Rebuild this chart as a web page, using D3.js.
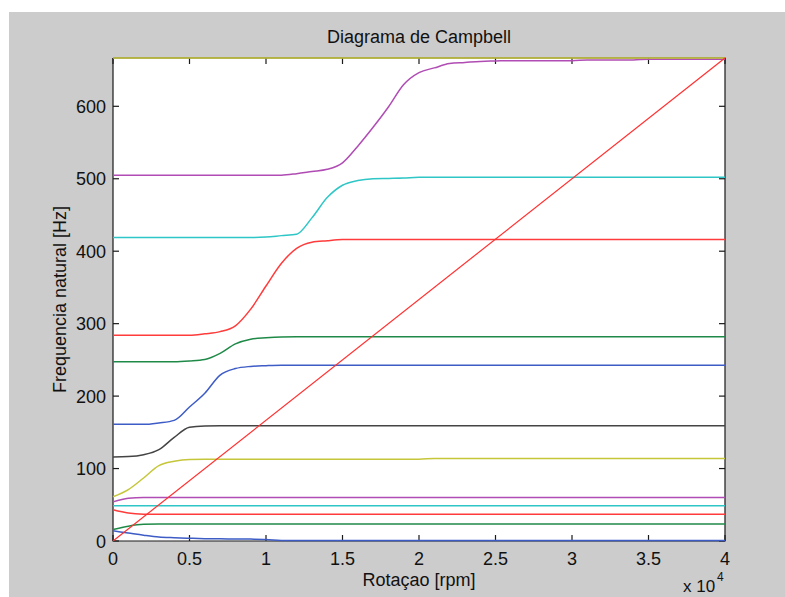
<!DOCTYPE html>
<html>
<head>
<meta charset="utf-8">
<script src="https://cdn.jsdelivr.net/npm/d3@7/dist/d3.min.js"></script>
<style>
  html, body { margin: 0; padding: 0; background: #fff; }
  svg { display: block; }
  text { font-family: "Liberation Sans", Arial, sans-serif; fill: #111; }
</style>
</head>
<body>
<svg id="chart" width="785" height="597"></svg>
<script>
// Campbell diagram: natural frequencies [Hz] against rotor speed [rpm]
const titulo = "Diagrama de Campbell";
const rotuloX = "Rotaçao [rpm]";
const rotuloY = "Frequencia natural [Hz]";

const xTicks = [0, 5000, 10000, 15000, 20000, 25000, 30000, 35000, 40000];
const xTickLabels = ["0", "0.5", "1", "1.5", "2", "2.5", "3", "3.5", "4"];
const yTicks = [0, 100, 200, 300, 400, 500, 600];
const yTickLabels = ["0", "100", "200", "300", "400", "500", "600"];

// Each mode: [rotation rpm, frequency Hz]
const modo1 = [[0, 14], [1000, 11], [2000, 8], [3000, 5.5], [4000, 4.5], [5000, 3.8], [6000, 3.2], [7000, 3], [8000, 2.8], [9000, 2.6], [10000, 2.2], [11000, 0.8], [12000, 0.6], [40000, 0.6]];
const modo2 = [[0, 16], [1000, 20.5], [2000, 23], [3000, 23.4], [40000, 23.4]];
const modo3 = [[0, 43], [1000, 38.5], [2000, 37], [3000, 36.8], [40000, 36.8]];
const modo4 = [[0, 48.5], [40000, 48.5]];
const modo5 = [[0, 54], [1000, 59], [2000, 60], [40000, 60]];
const modo6 = [[0, 61], [1000, 71], [2000, 87], [3000, 104], [4000, 110], [5000, 112.5], [6000, 112.8], [20000, 113], [21000, 114], [40000, 114]];
const modo7 = [[0, 116], [1000, 116.5], [2000, 119], [3000, 126], [4000, 143], [5000, 157], [6000, 158.7], [7000, 159], [40000, 159]];
const modo8 = [[0, 161], [2000, 161], [3000, 163], [4000, 166.5], [5000, 185], [6000, 204], [7000, 229], [8000, 238], [9000, 241], [10000, 242], [11000, 242.6], [40000, 242.6]];
const modo9 = [[0, 247.5], [4000, 247.5], [5000, 248.5], [6000, 250.5], [7000, 259], [8000, 272], [9000, 278.5], [10000, 280.5], [11000, 281.7], [12000, 282], [40000, 282]];
const modo10 = [[0, 284], [5000, 284], [6000, 286], [7000, 289], [8000, 297], [9000, 320], [10000, 352], [11000, 383], [12000, 404], [13000, 412.5], [14000, 414.5], [15000, 416], [16000, 416.3], [40000, 416.3]];
const modo11 = [[0, 419], [9000, 419], [10000, 419.5], [11000, 421.5], [12000, 423.5], [13000, 446], [14000, 474], [15000, 491], [16000, 497.5], [17000, 500], [18000, 500.5], [19000, 501], [20000, 502], [40000, 502]];
const modo12 = [[0, 505], [11000, 505], [12000, 507], [13000, 510], [14000, 513], [15000, 522], [16000, 545], [17000, 571], [18000, 599], [19000, 630], [20000, 646.5], [21000, 653], [22000, 659], [23000, 660.5], [24000, 662], [25000, 662.5], [26000, 663], [30000, 663], [31000, 664], [34000, 664], [35000, 665], [40000, 665]];
const modo13 = [[0, 666.67], [40000, 666.67]];

// Synchronous excitation line (1X)
const linha1X = [[0, 0], [40000, 666.67]];

const modos = [modo1, modo2, modo3, modo4, modo5, modo6, modo7, modo8, modo9, modo10, modo11, modo12, modo13];
const cores = ["#3d5cc6", "#1f8a48", "#ff3b3b", "#2ec6c6", "#b04cb4", "#c6c63a", "#444444"];
const cor1X = "#ff3030";

const svg = d3.select("#chart");
const W = 785, H = 597;
const plot = { left: 113, top: 58, right: 725, bottom: 541 };

// figure background
svg.append("rect").attr("x", 0).attr("y", 0).attr("width", W).attr("height", H).attr("fill", "#ffffff");
svg.append("rect").attr("x", 9).attr("y", 12).attr("width", W - 9).attr("height", H - 12).attr("fill", "#cccccc");
svg.append("rect").attr("x", plot.left).attr("y", plot.top)
  .attr("width", plot.right - plot.left).attr("height", plot.bottom - plot.top).attr("fill", "#ffffff");

const x = d3.scaleLinear().domain([0, 40000]).range([plot.left, plot.right]);
const y = d3.scaleLinear().domain([0, 666.67]).range([plot.bottom, plot.top]);

// axes box with inward ticks on all four sides
const eixo = svg.append("g").attr("stroke", "#1a1a1a").attr("stroke-width", 1.2).attr("fill", "none");
eixo.append("path").attr("d",
  `M${plot.left},${plot.top}V${plot.bottom}H${plot.right}V${plot.top}H${plot.left}`);
const tk = 6;
xTicks.forEach(v => {
  eixo.append("line").attr("x1", x(v)).attr("x2", x(v)).attr("y1", plot.bottom).attr("y2", plot.bottom - tk);
  eixo.append("line").attr("x1", x(v)).attr("x2", x(v)).attr("y1", plot.top).attr("y2", plot.top + tk);
});
yTicks.forEach(v => {
  eixo.append("line").attr("x1", plot.left).attr("x2", plot.left + tk).attr("y1", y(v)).attr("y2", y(v));
  eixo.append("line").attr("x1", plot.right).attr("x2", plot.right - tk).attr("y1", y(v)).attr("y2", y(v));
});

// data lines
svg.append("clipPath").attr("id", "area").append("rect")
  .attr("x", plot.left - 1).attr("y", plot.top - 1)
  .attr("width", plot.right - plot.left + 2).attr("height", plot.bottom - plot.top + 2);
const dados = svg.append("g").attr("clip-path", "url(#area)").attr("fill", "none").attr("stroke-width", 1.5);
const linhaCurva = d3.line().x(d => x(d[0])).y(d => y(d[1])).curve(d3.curveMonotoneX);
modos.forEach((m, i) => {
  dados.append("path").attr("d", linhaCurva(m)).attr("stroke", cores[i % cores.length]);
});
const linhaReta = d3.line().x(d => x(d[0])).y(d => y(d[1]));
dados.append("path").attr("d", linhaReta(linha1X)).attr("stroke", cor1X).attr("stroke-width", 1.2);

// tick labels
const fs = 18;
xTicks.forEach((v, i) => {
  svg.append("text").attr("x", x(v)).attr("y", 565).attr("text-anchor", "middle")
    .attr("font-size", fs).text(xTickLabels[i]);
});
yTicks.forEach((v, i) => {
  svg.append("text").attr("x", 106).attr("y", y(v) + 6.5).attr("text-anchor", "end")
    .attr("font-size", fs).text(yTickLabels[i]);
});

// exponent of the x axis
svg.append("text").attr("x", 683).attr("y", 592).attr("font-size", 17).text("x 10");
svg.append("text").attr("x", 717).attr("y", 581).attr("font-size", 12).text("4");

// titles
svg.append("text").attr("x", (plot.left + plot.right) / 2).attr("y", 43).attr("text-anchor", "middle")
  .attr("font-size", fs).text(titulo);
svg.append("text").attr("x", (plot.left + plot.right) / 2).attr("y", 586).attr("text-anchor", "middle")
  .attr("font-size", fs).text(rotuloX);
svg.append("text").attr("transform", `translate(66,${(plot.top + plot.bottom) / 2}) rotate(-90)`)
  .attr("text-anchor", "middle").attr("font-size", fs).text(rotuloY);
</script>
</body>
</html>
